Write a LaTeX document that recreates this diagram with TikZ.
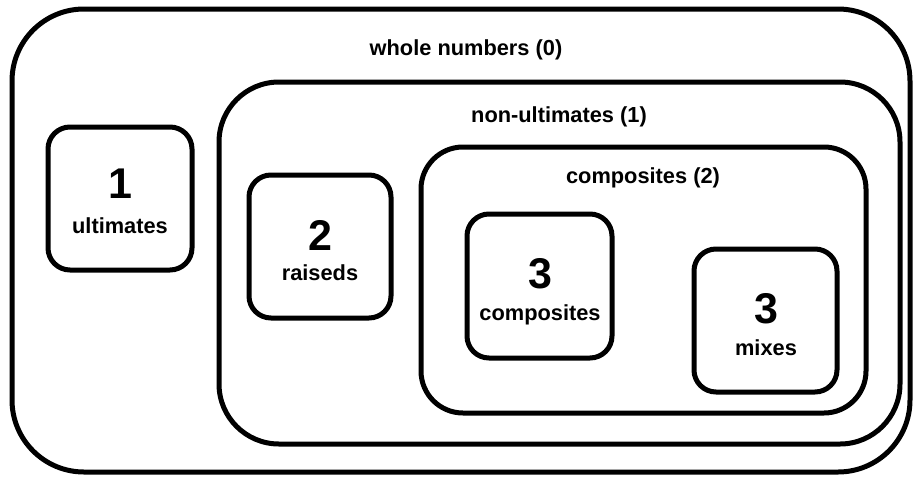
\documentclass[tikz,border=0pt]{standalone}
\usepackage{fontspec}
\setmainfont{Liberation Sans}
\begin{document}
\begin{tikzpicture}[x=1pt,y=-1pt,
  box/.style={draw=black, line width=5pt, inner sep=0pt, rectangle},
  lbl/.style={font=\bfseries\fontsize{21.8}{24}\selectfont, anchor=base, inner sep=0pt},
  num/.style={font=\bfseries\fontsize{43}{46}\selectfont, anchor=base, inner sep=0pt}]
\useasboundingbox (0,0) rectangle (913,477);
\fill[white] (0,0) rectangle (913,477);
% boxes
\node[box, minimum width=898pt, minimum height=463pt, rounded corners=72pt] (whole) at (461,240.5) {};
\node[box, minimum width=681pt, minimum height=362pt, rounded corners=60pt] (nonult) at (559.5,263) {};
\node[box, minimum width=445pt, minimum height=266pt, rounded corners=42pt] (comp2) at (643.5,280) {};
\node[box, minimum width=144pt, minimum height=143pt, rounded corners=22pt] (ult) at (120,198.5) {};
\node[box, minimum width=142pt, minimum height=143pt, rounded corners=22pt] (raised) at (320,246.5) {};
\node[box, minimum width=145pt, minimum height=144pt, rounded corners=22pt] (comp3) at (539.5,286) {};
\node[box, minimum width=143pt, minimum height=143pt, rounded corners=22pt] (mixes) at (765.5,320.5) {};
% labels
\node[lbl] (twhole) at (466,55) {whole numbers (0)};
\node[lbl] (tnon) at (559,122) {non-ultimates (1)};
\node[lbl] (tcomp2) at (643,183) {composites (2)};
\node[num] (n1) at (120,198) {1};
\node[lbl] (tult) at (120,233) {ultimates};
\node[num] (n2) at (320,250) {2};
\node[lbl] (traised) at (320,280) {raiseds};
\node[num] (n3a) at (540,288) {3};
\node[lbl] (tcomp3) at (540,320) {composites};
\node[num] (n3b) at (766,323) {3};
\node[lbl] (tmix) at (766,355) {mixes};
\end{tikzpicture}
\end{document}
